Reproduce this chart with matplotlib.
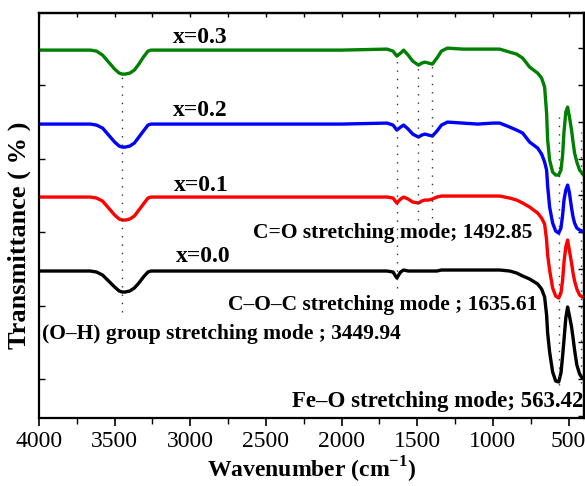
import matplotlib
matplotlib.use("Agg")
import matplotlib.pyplot as plt
from matplotlib.ticker import MultipleLocator, FixedLocator, NullFormatter

plt.rcParams['font.family'] = ['Liberation Serif', 'DejaVu Serif']
plt.rcParams['mathtext.fontset'] = 'custom'
plt.rcParams['mathtext.rm'] = 'Liberation Serif:bold'
plt.rcParams['mathtext.bf'] = 'Liberation Serif:bold'

# Wavenumber grid (cm^-1)
wavenumber = [4000, 3700, 3660, 3620, 3580, 3540, 3500, 3470, 3450, 3430, 3400, 3370,
              3340, 3310, 3280, 3260, 3000, 2500, 2000, 1700, 1660, 1635, 1610, 1590,
              1560, 1530, 1492, 1470, 1450, 1425, 1400, 1370, 1340, 1300, 1200, 1100,
              1000, 955, 889, 843, 803, 757, 704, 678, 658, 645, 638, 625, 605, 585,
              565, 550, 539, 530, 518, 506, 495, 480, 470, 460, 445, 427, 410, 400]

# Transmittance (a.u., stacked)
t_x03 = [368, 368, 368, 367, 363, 356, 349, 345, 344, 344, 345, 348,
         354, 361, 367, 368, 368, 368, 368, 369, 367, 362, 365, 368,
         363, 357, 353, 355, 356, 355, 354, 360, 367, 370, 369, 369,
         369, 369, 366, 364, 360, 351, 345, 340, 331, 305, 278, 258, 246, 243,
         243, 248, 263, 286, 306, 311, 302, 288, 276, 265, 256, 248, 245, 243]
t_x02 = [294, 294, 294, 293, 290, 283, 276, 272, 271, 271, 272, 275,
         281, 287, 293, 294, 294, 294, 294, 295, 293, 288, 291, 293,
         289, 284, 281, 283, 284, 283, 282, 287, 293, 296, 295, 294,
         295, 295, 291, 288, 285, 276, 270, 264, 256, 248, 232, 211, 195, 187,
         185, 190, 203, 218, 228, 233, 226, 210, 201, 195, 190, 188, 187, 186]
t_x01 = [221, 221, 221, 220, 217, 210, 203, 199, 198, 198, 199, 202,
         208, 214, 220, 221, 221, 221, 221, 221, 220, 215, 219, 221,
         219, 216, 215, 217, 218, 218, 219, 221, 222, 222, 222, 222,
         222, 222, 220, 218, 215, 211, 205, 200, 194, 178, 163, 148, 130, 122,
         120, 125, 138, 156, 171, 178, 168, 155, 145, 137, 129, 123, 121, 121]
t_x00 = [147, 147, 147, 146, 143, 137, 131, 127, 126, 126, 127, 130,
         135, 141, 146, 147, 147, 147, 147, 147, 146, 140, 146, 148,
         147, 147, 147, 147, 147, 147, 147, 147, 148, 148, 148, 148,
         148, 148, 147, 145, 142, 139, 134, 129, 121, 103, 85, 66, 46, 37,
         36, 45, 62, 78, 100, 111, 103, 91, 80, 68, 53, 44, 40, 40]

series = [("x=0.3", t_x03, "#008000"), ("x=0.2", t_x02, "#0000ff"),
          ("x=0.1", t_x01, "#ff0000"), ("x=0.0", t_x00, "#000000")]

# dotted guide lines: position, bottom, top
guide_x = [3449.94, 1635.61, 1492.85, 1400, 563.42, 420]
guide_lo = [106, 130, 198, 200, 33, 35]
guide_hi = [344, 368, 353, 355, 303, 286]

# labels
label_text = ["x=0.3", "x=0.2", "x=0.1", "x=0.0"]
label_x = [2937, 2937, 2930, 2917]
label_y = [381, 308, 233, 162]

ann_text = ["C=O stretching mode; 1492.85", "C\u2013O\u2013C stretching mode ; 1635.61",
            "(O\u2013H) group stretching mode ; 3449.94", "Fe\u2013O stretching mode; 563.42"]
ann_x = [737, 704, 3980, 401]
ann_y = [185, 113, 84, 16]
ann_ha = ["right", "right", "left", "right"]
ann_size = [15.5, 15.5, 15.5, 16.5]

fig = plt.figure(figsize=(5.85, 4.86), dpi=100)
ax = fig.add_axes([0.0667, 0.14, 0.931, 0.833])

for name, vals, col in series:
    ax.plot(wavenumber, vals, color=col, lw=2.4, solid_joinstyle='round')

ax.vlines(guide_x, guide_lo, guide_hi, colors='#333333', linestyles=(0, (1, 5)), lw=1.0)

for t, x, y in zip(label_text, label_x, label_y):
    ax.text(x, y, t, ha='center', va='center', fontsize=17, fontweight='bold')
for t, x, y, ha, fs in zip(ann_text, ann_x, ann_y, ann_ha, ann_size):
    ax.text(x, y, t, ha=ha, va='center', fontsize=fs, fontweight='bold')

ax.set_xlim(4000, 400)
ax.set_ylim(0, 405)
ax.xaxis.set_major_locator(MultipleLocator(500))
ax.xaxis.set_minor_locator(MultipleLocator(250))
ax.yaxis.set_major_locator(FixedLocator([39, 112.5, 186, 259.5, 333]))
ax.yaxis.set_major_formatter(NullFormatter())
ax.tick_params(axis='x', which='both', bottom=True, top=False, direction='out', labelsize=17)
ax.tick_params(axis='x', which='major', length=6, width=1.2)
ax.tick_params(axis='x', which='minor', length=4, width=1.0)
ax.tick_params(axis='y', which='major', left=True, right=False, direction='in', length=4, width=1.0)

# top axis: inward ticks, no labels
top = ax.secondary_xaxis('top')
top.xaxis.set_major_locator(MultipleLocator(500))
top.xaxis.set_minor_locator(MultipleLocator(250))
top.tick_params(axis='x', which='both', direction='in', labeltop=False, length=3, width=1.0)
top.xaxis.set_major_formatter(NullFormatter())

# right axis: inward ticks at half spacing, no labels
right = ax.secondary_yaxis('right')
right.yaxis.set_major_locator(FixedLocator([2.25, 39, 75.75, 112.5, 149.25, 186, 222.75,
                                            259.5, 296.25, 333, 369.75]))
right.tick_params(axis='y', which='major', direction='in', labelright=False, length=4, width=1.0)
right.yaxis.set_major_formatter(NullFormatter())

for a in (ax, top, right):
    for sp in a.spines.values():
        sp.set_linewidth(1.6)

ax.set_xlabel(r"Wavenumber (cm$^{\mathbf{-1}}$)", fontsize=17, fontweight='bold')
ax.xaxis.set_label_coords(0.5, -0.128)
ax.xaxis.label.set_va('center')
ax.set_ylabel("Transmittance ( % )", fontsize=19, fontweight='bold')
ax.yaxis.set_label_coords(-0.036, 0.452)
ax.yaxis.label.set_va('center')

fig.savefig("out.png", dpi=100)
